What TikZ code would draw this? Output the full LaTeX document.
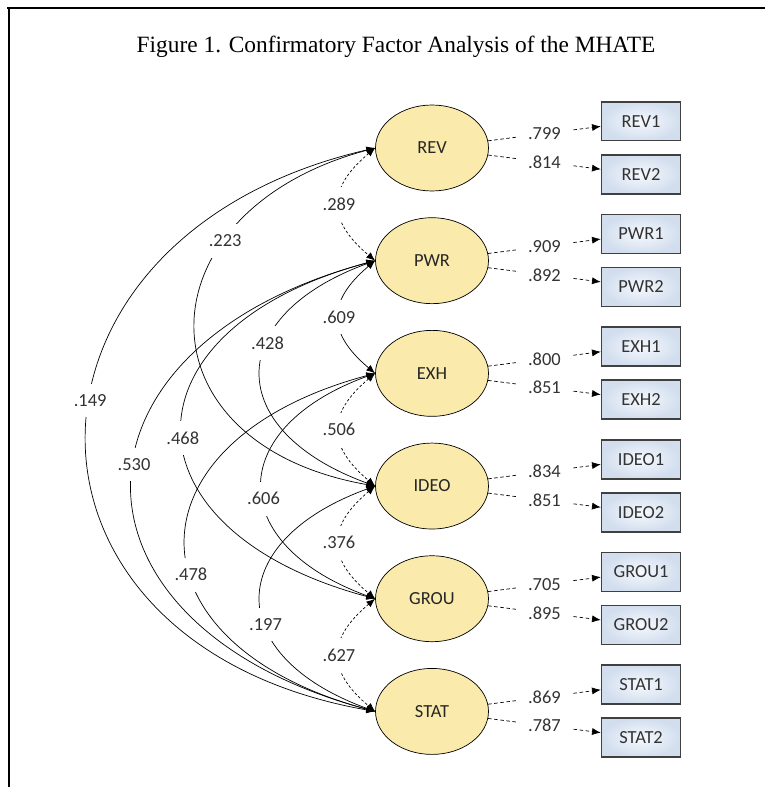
\documentclass[tikz,border=0pt]{standalone}
\usepackage{fontspec}
\setmainfont{Carlito}
\newfontfamily\titlefont{Liberation Serif}
\usetikzlibrary{shapes,arrows.meta,positioning}

\definecolor{factorfill}{RGB}{250,235,172}
\definecolor{itemin}{RGB}{246,249,254}
\definecolor{itemout}{RGB}{210,222,238}

\begin{document}
\begin{tikzpicture}[x=0.02cm, y=0.02cm, >={Latex[length=5pt,width=4pt]}, font=\fontsize{10.5}{12}\selectfont,
    factor/.style={draw, ellipse, fill=factorfill, minimum width=2.26cm, minimum height=1.72cm, inner sep=0pt, text=black!85},
    item/.style={draw=black!75, rectangle, line width=0.9pt, inner color=itemin, outer color=itemout, minimum width=1.58cm, minimum height=0.78cm, text=black!80},
    cov/.style={<->, thin},
    adj/.style={<->, thin, dash pattern=on 1.5pt off 1.2pt},
    load/.style={->, thin, dash pattern=on 2pt off 1.5pt},
    coef/.style={fill=white, inner xsep=3pt, inner ysep=6pt, text=black!80},
    lcoef/.style={fill=white, inner xsep=7pt, inner ysep=1pt, text=black!80}]
    \useasboundingbox (0,0) rectangle (765,-787);

    % Frame
    \draw[line width=0.9pt] (7,-8) -- (765,-8);
    \draw[line width=0.9pt] (9,-8) -- (9,-787);

    % Title
    \node (Title) at (396,-47) {\titlefont\fontsize{13.3}{15}\selectfont Figure 1. Confirmatory Factor Analysis of the MHATE};

    % Factors
    \node (Rev) [factor] at (432,-148) {REV};
    \node (Pwr) [factor, below=0.52cm of Rev] {PWR};
    \node (Exh) [factor, below=0.52cm of Pwr] {EXH};
    \node (Ideo) [factor, below=0.52cm of Exh] {IDEO};
    \node (Grou) [factor, below=0.52cm of Ideo] {GROU};
    \node (Stat) [factor, below=0.52cm of Grou] {STAT};

    % Indicators
    \node (Rev1) [item, above right=0.13cm and 2.24cm of Rev.east] {REV1};
    \node (Rev2) [item, below right=0.12cm and 2.24cm of Rev.east] {REV2};
    \node (Pwr1) [item, above right=0.13cm and 2.24cm of Pwr.east] {PWR1};
    \node (Pwr2) [item, below right=0.12cm and 2.24cm of Pwr.east] {PWR2};
    \node (Exh1) [item, above right=0.13cm and 2.24cm of Exh.east] {EXH1};
    \node (Exh2) [item, below right=0.12cm and 2.24cm of Exh.east] {EXH2};
    \node (Ideo1) [item, above right=0.13cm and 2.24cm of Ideo.east] {IDEO1};
    \node (Ideo2) [item, below right=0.12cm and 2.24cm of Ideo.east] {IDEO2};
    \node (Grou1) [item, above right=0.13cm and 2.24cm of Grou.east] {GROU1};
    \node (Grou2) [item, below right=0.12cm and 2.24cm of Grou.east] {GROU2};
    \node (Stat1) [item, above right=0.13cm and 2.24cm of Stat.east] {STAT1};
    \node (Stat2) [item, below right=0.12cm and 2.24cm of Stat.east] {STAT2};

    % Loadings
    \draw[load] (Rev) -- node[lcoef] {.799} (Rev1);
    \draw[load] (Rev) -- node[lcoef] {.814} (Rev2);
    \draw[load] (Pwr) -- node[lcoef] {.909} (Pwr1);
    \draw[load] (Pwr) -- node[lcoef] {.892} (Pwr2);
    \draw[load] (Exh) -- node[lcoef] {.800} (Exh1);
    \draw[load] (Exh) -- node[lcoef] {.851} (Exh2);
    \draw[load] (Ideo) -- node[lcoef] {.834} (Ideo1);
    \draw[load] (Ideo) -- node[lcoef] {.851} (Ideo2);
    \draw[load] (Grou) -- node[lcoef] {.705} (Grou1);
    \draw[load] (Grou) -- node[lcoef] {.895} (Grou2);
    \draw[load] (Stat) -- node[lcoef] {.869} (Stat1);
    \draw[load] (Stat) -- node[lcoef] {.787} (Stat2);

    % Correlations, long ones first
    \draw[cov] (Rev.west) .. controls +(193:392) and +(170:392) .. node[coef, pos=0.45] {.149} (Stat.west);
    \draw[cov] (Pwr.west) .. controls +(195:335) and +(165:335) .. node[coef, pos=0.46] {.530} (Stat.west);
    \draw[cov] (Rev.west) .. controls +(195:245) and +(170:245) .. node[coef, pos=0.3] {.223} (Ideo.west);
    \draw[cov] (Pwr.west) .. controls +(195:266) and +(165:266) .. node[coef, pos=0.52] {.468} (Grou.west);
    \draw[cov] (Exh.west) .. controls +(195:261) and +(165:261) .. node[coef, pos=0.58] {.478} (Stat.west);
    \draw[cov] (Pwr.west) .. controls +(200:162) and +(160:162) .. node[coef, pos=0.38] {.428} (Ideo.west);
    \draw[cov] (Exh.west) .. controls +(200:160) and +(160:160) .. node[coef, pos=0.55] {.606} (Grou.west);
    \draw[cov] (Ideo.west) .. controls +(200:162) and +(160:162) .. node[coef, pos=0.6] {.197} (Stat.west);

    % Neighbouring factors
    \draw[adj] (Rev.west) .. controls +(220:63) and +(140:63) .. node[coef] {.289} (Pwr.west);
    \draw[cov] (Pwr.west) .. controls +(220:63) and +(140:63) .. node[coef] {.609} (Exh.west);
    \draw[adj] (Exh.west) .. controls +(220:63) and +(140:63) .. node[coef] {.506} (Ideo.west);
    \draw[adj] (Ideo.west) .. controls +(220:63) and +(140:63) .. node[coef] {.376} (Grou.west);
    \draw[adj] (Grou.west) .. controls +(220:63) and +(140:63) .. node[coef] {.627} (Stat.west);
\end{tikzpicture}
\end{document}
